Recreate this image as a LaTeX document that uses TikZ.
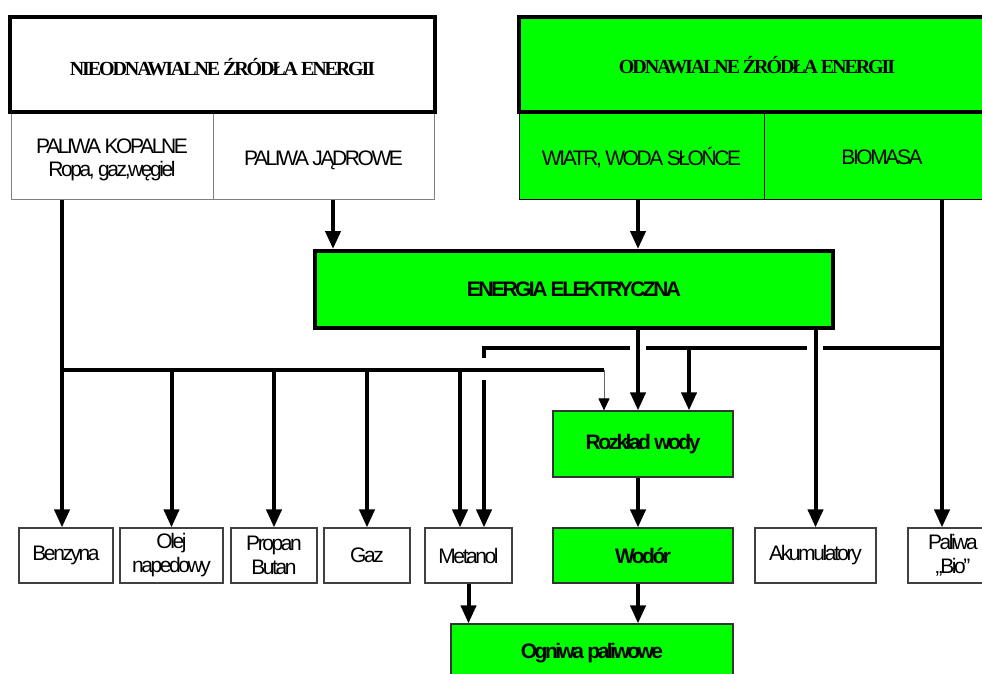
\documentclass[tikz,border=0pt]{standalone}
\usepackage{fontspec}
\setmainfont{Liberation Sans}
\newfontfamily\fs[LetterSpace=-11.5]{Liberation Sans}
\newfontfamily\fsb[LetterSpace=-12]{Liberation Sans}
\newfontfamily\fser[LetterSpace=-10.5]{Liberation Serif}
\usetikzlibrary{arrows.meta}
\definecolor{grn}{RGB}{0,255,0}
\newcommand{\dnshift}[2]{\raisebox{-#1}[\height][\depth]{#2}}
\begin{document}
\begin{tikzpicture}[x=1pt,y=-1pt,
  font=\fs\fontsize{21}{24}\selectfont,
  hbox/.style={draw=black, line width=4.5pt, inner sep=0pt, font=\fser\bfseries\fontsize{20}{22}\selectfont},
  sbox/.style={draw=black!50, line width=1pt, inner sep=0pt, align=center},
  gsub/.style={draw=black, fill=grn, line width=1pt, inner sep=0pt, align=center},
  wbox/.style={draw=black!75, line width=1.2pt, fill=white, inner sep=0pt, align=center, minimum height=55pt},
  gbox/.style={draw=black!80, fill=grn, line width=1.2pt, inner sep=0pt, align=center, font=\fsb\bfseries\fontsize{21}{24}\selectfont},
  line/.style={line width=4pt},
  conn/.style={line, -{Triangle[width=15pt,length=18pt]}},
  thinconn/.style={line width=1pt, draw=black!60, -{Triangle[width=11pt,length=12pt,color=black]}}
]
\useasboundingbox (0,0) rectangle (982,673);
\clip (0,0) rectangle (982,673);

% top left
\node[sbox, minimum width=202pt, minimum height=87pt] (kop) at (112,155.5)
  {\dnshift{5pt}{\begin{tabular}{@{}c@{}}PALIWA KOPALNE\\[-1pt]Ropa, gaz,węgiel\end{tabular}}};
\node[sbox, minimum width=221pt, minimum height=87pt] (jad) at (323.5,155.5)
  {\dnshift{5pt}{PALIWA JĄDROWE}};
\node[hbox, fill=white, minimum width=425pt, minimum height=95pt] (nhead) at (222.5,64.5)
  {\dnshift{3pt}{NIEODNAWIALNE ŹRÓDŁA ENERGII}};

% top right
\node[gsub, minimum width=245pt, minimum height=87pt] (wiatr) at (641.5,155.5)
  {\dnshift{2pt}{WIATR, WODA SŁOŃCE}};
\node[gsub, minimum width=236pt, minimum height=87pt] (bio) at (882,155.5)
  {\dnshift{2pt}{BIOMASA}};
\node[hbox, fill=grn, minimum width=476pt, minimum height=95pt] (ohead) at (757,64.5)
  {\dnshift{1pt}{ODNAWIALNE ŹRÓDŁA ENERGII}};

% middle
\node[gbox, line width=4pt, draw=black, minimum width=518pt, minimum height=77pt] (energia) at (574,289.5)
  {ENERGIA ELEKTRYCZNA};
\node[gbox, minimum width=180pt, minimum height=66pt] (rozklad) at (643,444) {Rozkład wody};

% bottom row
\node[wbox, minimum width=94pt]  (benz) at (66,555.5)    {Benzyna};
\node[wbox, minimum width=103pt] (olej) at (171.5,555.5) {Olej\\napedowy};
\node[wbox, minimum width=86pt]  (prop) at (274,555.5)   {Propan\\Butan};
\node[wbox, minimum width=86pt]  (gaz)  at (367,555.5)   {Gaz};
\node[wbox, minimum width=87pt]  (met)  at (468.5,555.5) {Metanol};
\node[gbox, minimum width=180pt, minimum height=55pt] (wodor) at (643,555.5) {Wodór};
\node[wbox, minimum width=121pt] (akum) at (815.5,555.5) {Akumulatory};
\node[wbox, minimum width=90pt]  (pbio) at (953,555.5)   {Paliwa\\„Bio”};
\node[gbox, minimum width=282pt, minimum height=58pt] (ogniwa) at (592,653) {Ogniwa paliwowe};

% junction coordinates
\coordinate (L) at (62,370);
\coordinate (R1) at (604,370);
\coordinate (M1) at (460,370);
\coordinate (M2) at (484,348);
\coordinate (M2a) at (484,358);
\coordinate (M2b) at (484,380);
\coordinate (G1) at (630,348);
\coordinate (G2) at (646,348);
\coordinate (G3) at (807,348);
\coordinate (G4) at (823,348);
\coordinate (B) at (942,348);
\coordinate (V) at (689,348);
\coordinate (X) at (638,0);
\coordinate (J) at (333,0);

% connectors
\draw[conn] (kop.south -| L) -- (benz.north -| L);
\draw[line] (L) -- (R1);
\draw[thinconn] (R1) -- (rozklad.north -| R1);
\draw[conn] (L -| olej.north) -- (olej.north);
\draw[conn] (L -| prop.north) -- (prop.north);
\draw[conn] (L -| gaz.north) -- (gaz.north);
\draw[conn] (M1) -- (met.north -| M1);
\draw[line] (M2a) -- (M2) -- (G1);
\draw[line] (G2) -- (G3);
\draw[line] (G4) -- (B);
\draw[conn] (M2b) -- (met.north -| M2b);
\draw[conn] (jad.south -| J) -- (energia.north -| J);
\draw[conn] (wiatr.south -| X) -- (energia.north -| X);
\draw[conn] (energia.south -| X) -- (rozklad.north -| X);
\draw[conn] (V) -- (rozklad.north -| V);
\draw[conn] (energia.south -| akum.north) -- (akum.north);
\draw[conn] (bio.south -| B) -- (pbio.north -| B);
\draw[conn] (rozklad.south -| X) -- (wodor.north -| X);
\draw[conn] (wodor.south -| X) -- (ogniwa.north -| X);
\draw[conn] (met.south) -- (ogniwa.north -| met.south);
\end{tikzpicture}
\end{document}
